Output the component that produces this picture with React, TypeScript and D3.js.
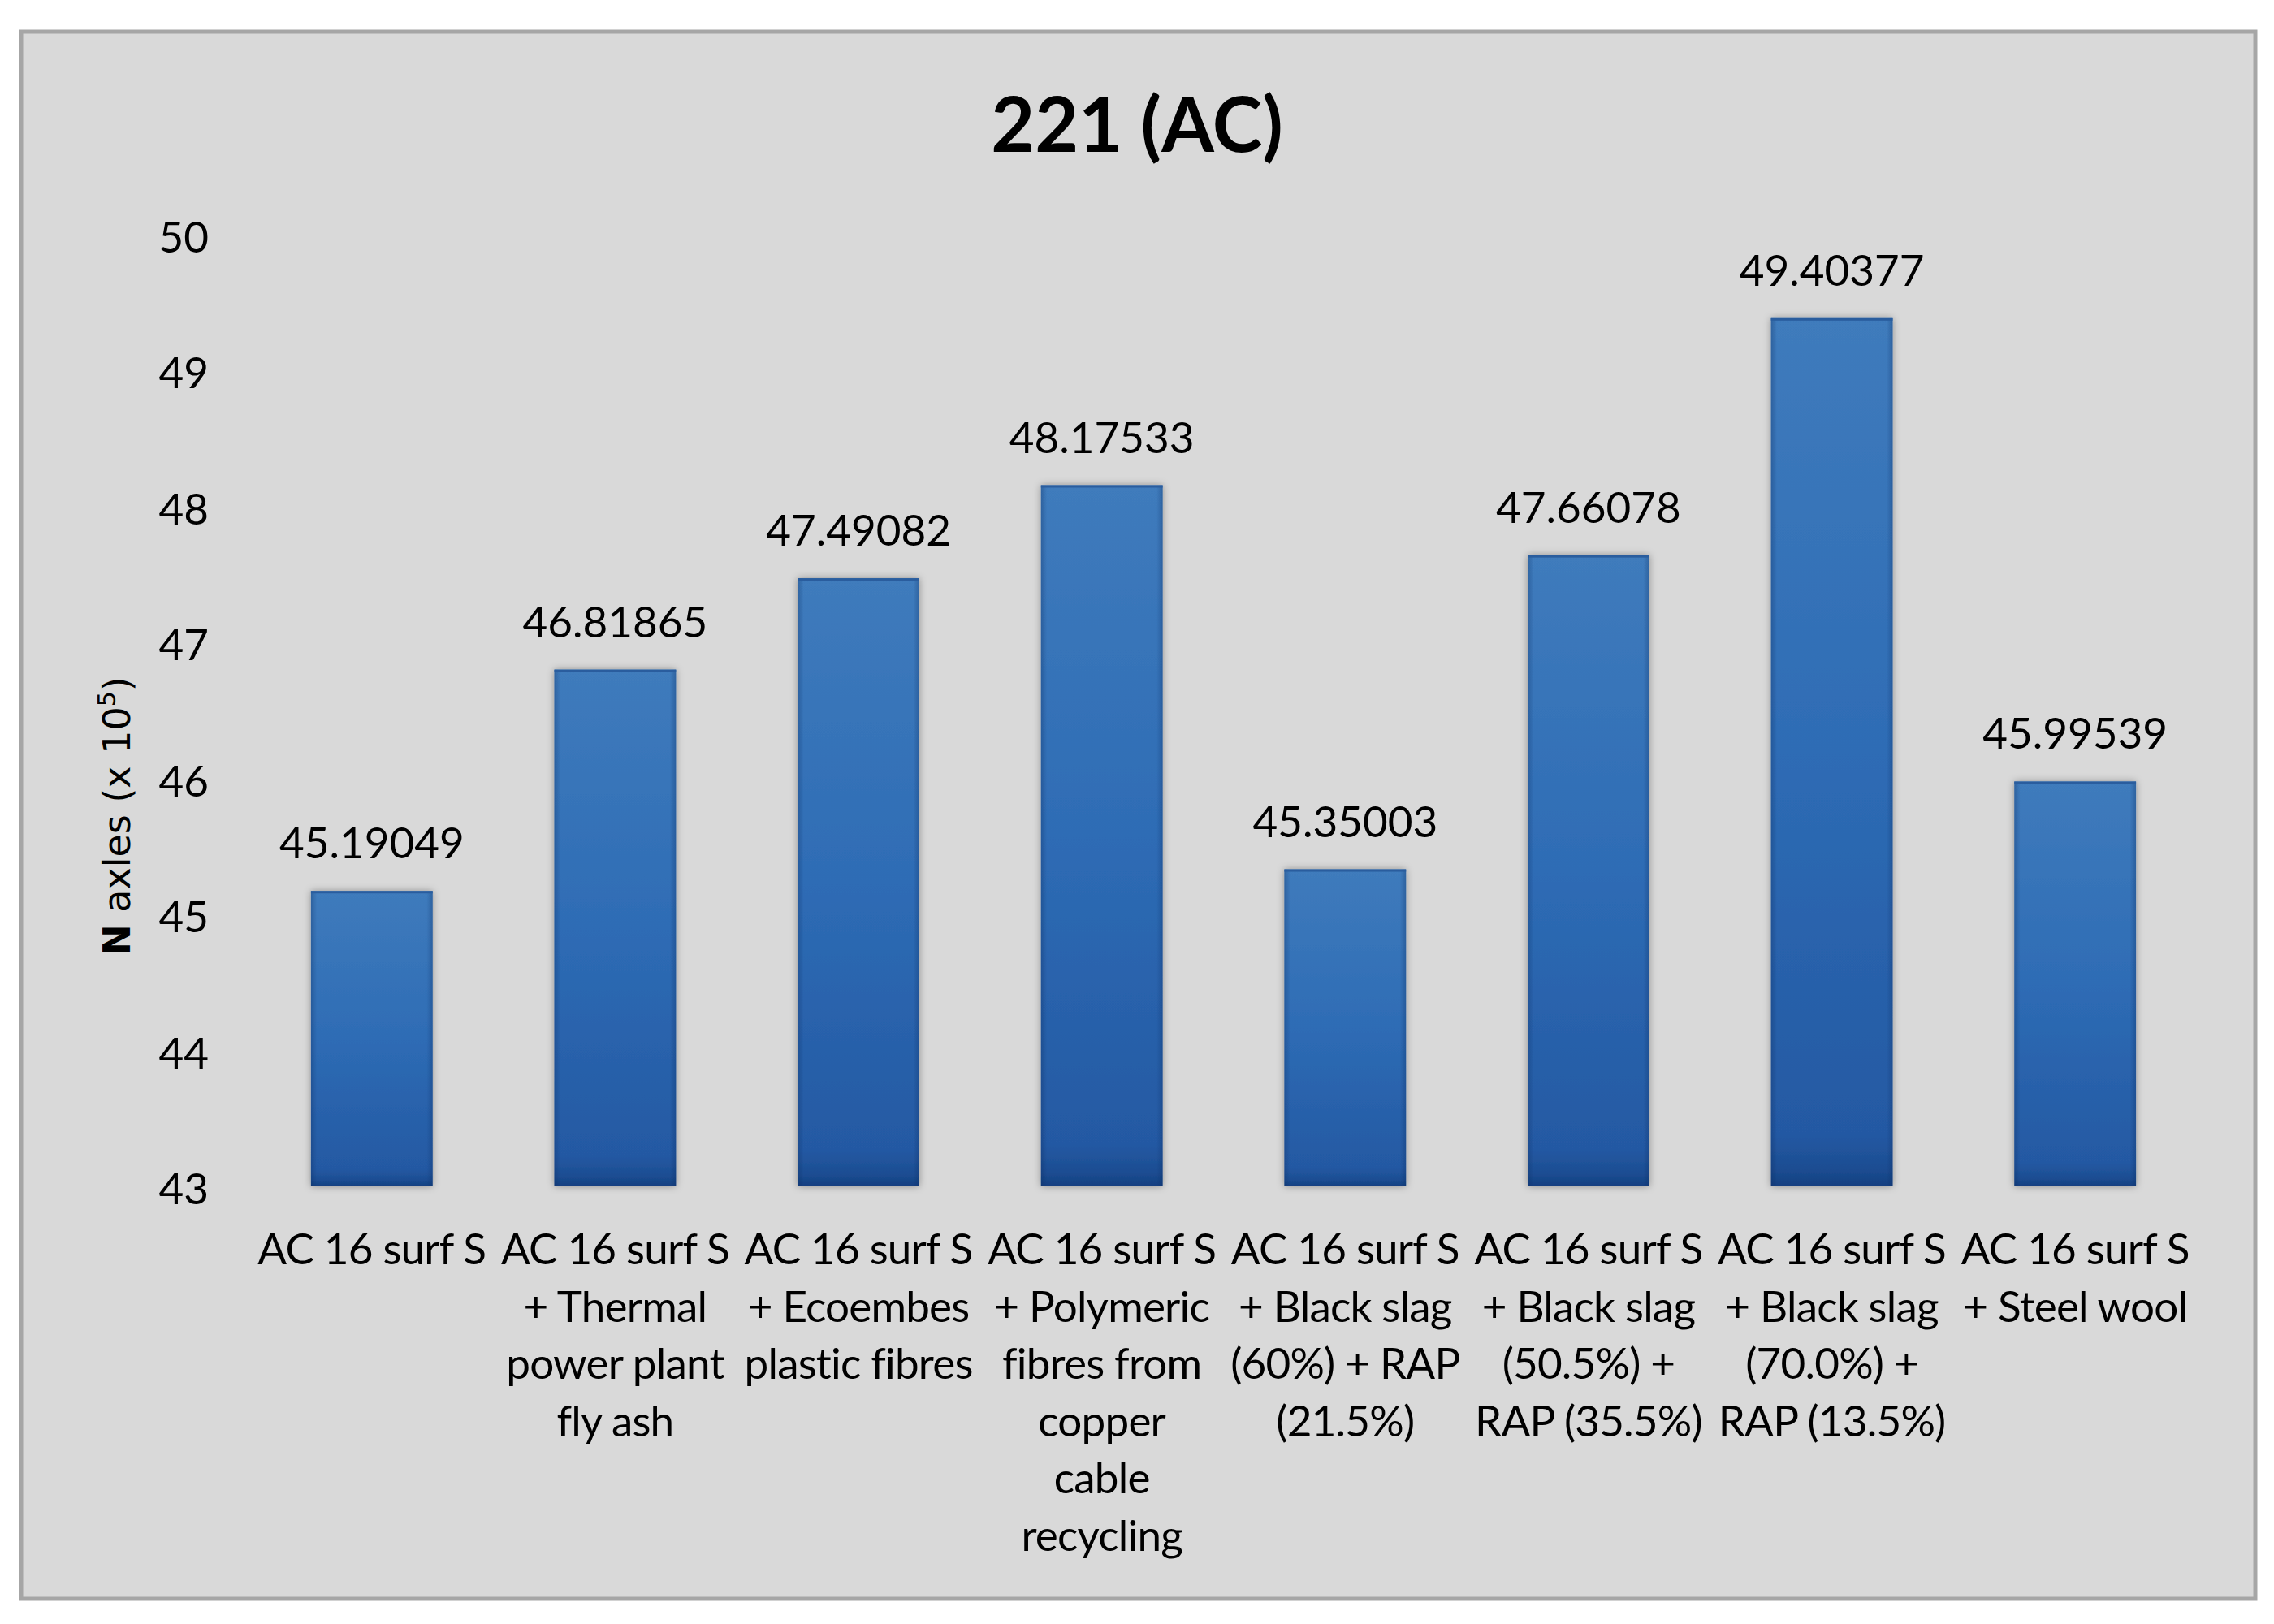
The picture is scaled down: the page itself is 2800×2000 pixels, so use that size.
import React from "react";
import * as d3 from "d3";

const categories: string[][] = [
  ["AC 16 surf S"],
  ["AC 16 surf S", "+ Thermal", "power plant", "fly ash"],
  ["AC 16 surf S", "+ Ecoembes", "plastic fibres"],
  ["AC 16 surf S", "+ Polymeric", "fibres from", "copper", "cable", "recycling"],
  ["AC 16 surf S", "+ Black slag", "(60%) + RAP", "(21.5%)"],
  ["AC 16 surf S", "+ Black slag", "(50.5%) +", "RAP (35.5%)"],
  ["AC 16 surf S", "+ Black slag", "(70.0%) +", "RAP (13.5%)"],
  ["AC 16 surf S", "+ Steel wool"],
];
const values: number[] = [45.19049, 46.81865, 47.49082, 48.17533, 45.35003, 47.66078, 49.40377, 45.99539];
const yTicks: number[] = [43, 44, 45, 46, 47, 48, 49, 50];
const chartTitle = "221 (AC)";

const W = 2800;
const H = 2000;
const FONT = "Lato, 'Open Sans', 'Liberation Sans', sans-serif";

export default function App() {
  const idx = values.map((_, i) => i);
  const x = d3.scaleBand<number>().domain(idx).range([308, 2705]).paddingInner(0.5).paddingOuter(0.25);
  const y = d3.scaleLinear().domain([43, 50]).range([1464, 292]);
  const fmt = d3.format(".5f");

  return (
    <svg width={W} height={H} viewBox={`0 0 ${W} ${H}`} style={{ position: "absolute", left: 0, top: 0, background: "#fff" }}>
      <defs>
        <linearGradient id="barGrad" x1="0" y1="0" x2="0" y2="1">
          <stop offset="0" stopColor="#3f7bbc" />
          <stop offset="0.5" stopColor="#2e6cb5" />
          <stop offset="0.94" stopColor="#2459a3" />
          <stop offset="0.98" stopColor="#1c4d92" />
          <stop offset="1" stopColor="#133f80" />
        </linearGradient>
        <linearGradient id="sideGrad" x1="0" y1="0" x2="1" y2="0">
          <stop offset="0" stopColor="#0a2a5e" stopOpacity="0.3" />
          <stop offset="0.05" stopColor="#0a2a5e" stopOpacity="0" />
          <stop offset="0.95" stopColor="#0a2a5e" stopOpacity="0" />
          <stop offset="1" stopColor="#0a2a5e" stopOpacity="0.3" />
        </linearGradient>
        <filter id="barShadow" x="-20%" y="-5%" width="140%" height="110%">
          <feDropShadow dx="0" dy="0" stdDeviation="5" floodColor="#000" floodOpacity="0.35" />
        </filter>
        <filter id="lineShadow" x="-1%" y="-200%" width="102%" height="500%">
          <feDropShadow dx="0" dy="2" stdDeviation="1.5" floodColor="#000" floodOpacity="0.2" />
        </filter>
      </defs>

      <rect x={26} y={39} width={2751} height={1930} fill="#d9d9d9" stroke="#a6a6a6" strokeWidth={5} />

      <text x={1400} y={187} textAnchor="middle" fontFamily={FONT} fontWeight={700} fontSize={93} fill="#000">
        {chartTitle}
      </text>

      {yTicks.map((t) => (
        <g key={t}>
          <line x1={308} x2={2705} y1={y(t)} y2={y(t)} stroke={t === 43 ? "#9a9a9a" : "#8c8c8c"} strokeWidth={4} filter="url(#lineShadow)" />
          <text x={257} y={y(t) + 19} textAnchor="end" fontFamily={FONT} fontSize={53} fill="#000">
            {t}
          </text>
        </g>
      ))}

      {values.map((v, i) => {
        const bx = x(i)!;
        const bw = x.bandwidth();
        const top = y(v);
        const h = y(43) - top - 3;
        return (
          <g key={i}>
            <g filter="url(#barShadow)">
              <rect x={bx} y={top} width={bw} height={h} fill="url(#barGrad)" />
            </g>
            <rect x={bx} y={top} width={bw} height={h} fill="url(#sideGrad)" />
            <rect x={bx} y={top} width={bw} height={3} fill="#2a5d9e" />
            <text x={bx + bw / 2} y={top - 40} textAnchor="middle" fontFamily={FONT} fontSize={53} fill="#000">
              {fmt(v)}
            </text>
          </g>
        );
      })}

      {categories.map((lines, i) => (
        <text key={i} textAnchor="middle" fontFamily={FONT} fontSize={53} letterSpacing={-0.8} fill="#000">
          {lines.map((ln, j) => (
            <tspan key={j} x={x(i)! + x.bandwidth() / 2} y={1557 + j * 70.5}>
              {ln}
            </tspan>
          ))}
        </text>
      ))}

      <text transform="translate(160,1005) rotate(-90)" textAnchor="middle" fontFamily="'DejaVu Sans', sans-serif" fontSize={46} fill="#000">
        <tspan fontWeight={600}>N</tspan>
        <tspan> axles (x 10</tspan>
        <tspan fontSize={30} dy={-18}>5</tspan>
        <tspan dy={18}>)</tspan>
      </text>
    </svg>
  );
}
